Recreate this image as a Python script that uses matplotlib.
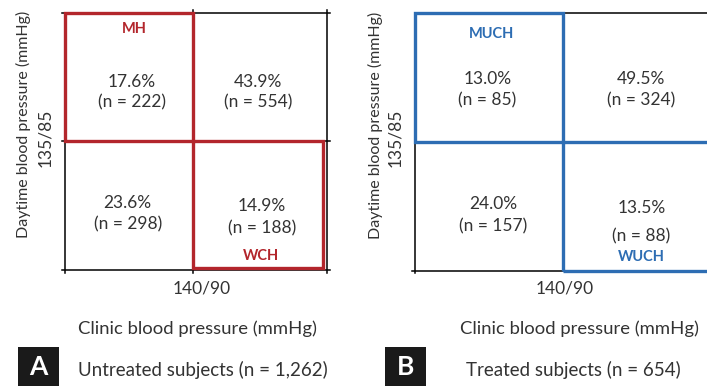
import matplotlib
matplotlib.use("Agg")
import matplotlib.pyplot as plt
from matplotlib.patches import Rectangle

# data
panels = ["A", "B"]
titles = ["Untreated subjects (n = 1,262)", "Treated subjects (n = 654)"]
# cells: top-left, top-right, bottom-left, bottom-right
pct_a = [17.6, 43.9, 23.6, 14.9]
n_a = [222, 554, 298, 188]
pct_b = [13.0, 49.5, 24.0, 13.5]
n_b = [85, 324, 157, 88]
tags_a = ["MH", "WCH"]
tags_b = ["MUCH", "WUCH"]
x_cut = "140/90"
y_cut = "135/85"
xlab = "Clinic blood pressure (mmHg)"
ylab = "Daytime blood pressure (mmHg)"

W, H = 707, 386
RED = "#b3262c"
BLUE = "#2d6db3"
TXT = "#333333"
plt.rcParams['font.family'] = ['Lato', 'DejaVu Sans']

fig = plt.figure(figsize=(W / 100, H / 100), dpi=100)


def fx(px):
    return px / W


def fy(py):
    return 1 - py / H


def add_panel(left, top, bottom, unit):
    # axes where one cell is one data unit
    ax = fig.add_axes([fx(left), fy(bottom), fx(2 * unit), fy(top) - fy(bottom)])
    ax.set_xlim(0, 2)
    ax.set_ylim(0, 2)
    ax.axis("off")
    return ax


fs = 12.5

# ---- panel A ----
axA = add_panel(65, 12.7, 270, 128)
k = dict(color="black", lw=1.1, clip_on=False, zorder=1)
axA.plot([-0.02, 2.07], [2, 2], **k)
axA.plot([-0.02, 2.07], [0, 0], **k)
axA.plot([-0.02, 2.07], [1, 1], **k)
axA.plot([0, 0], [-0.02, 2.0], **k)
axA.plot([1, 1], [-0.02, 2.02], **k)
axA.plot([2.05, 2.05], [-0.02, 2.02], **k)
axA.add_patch(Rectangle((0, 1), 1, 1, fill=False, ec=RED, lw=2.4, clip_on=False, zorder=3))
axA.add_patch(Rectangle((1, 0.015), 1.015, 0.985, fill=False, ec=RED, lw=2.4, clip_on=False, zorder=3))

pos_a = [(0.52, 1.46, 1.30), (1.51, 1.46, 1.30), (0.49, 0.52, 0.357), (1.54, 0.496, 0.326)]
for (x, yp, yn), p, n in zip(pos_a, pct_a, n_a):
    axA.text(x, yp, f"{p:.1f}%", ha="center", va="center", fontsize=fs, color=TXT)
    axA.text(x, yn, f"(n = {n})", ha="center", va="center", fontsize=fs, color=TXT)
axA.text(0.54, 1.873, tags_a[0], ha="center", va="center", fontsize=10.5, color=RED, fontweight="bold")
axA.text(1.53, 0.109, tags_a[1], ha="center", va="center", fontsize=10.5, color=RED, fontweight="bold")

# ---- panel B ----
axB = add_panel(415, 13.3, 270.7, 148)
axB.plot([1, 2.1], [2, 2], **k)
axB.plot([-0.02, 1], [0, 0], **k)
axB.plot([0, 0], [-0.02, 1], **k)
axB.add_patch(Rectangle((0, 1), 1, 1, fill=False, ec=BLUE, lw=2.4, clip_on=False, zorder=3))
axB.add_patch(Rectangle((1, 0), 1.2, 1, fill=False, ec=BLUE, lw=2.4, clip_on=False, zorder=3))

pos_b = [(0.49, 1.49, 1.325), (1.53, 1.49, 1.325), (0.53, 0.517, 0.347), (1.53, 0.49, 0.27)]
for (x, yp, yn), p, n in zip(pos_b, pct_b, n_b):
    axB.text(x, yp, f"{p:.1f}%", ha="center", va="center", fontsize=fs, color=TXT)
    axB.text(x, yn, f"(n = {n})", ha="center", va="center", fontsize=fs, color=TXT)
axB.text(0.52, 1.84, tags_b[0], ha="center", va="center", fontsize=10.5, color=BLUE, fontweight="bold")
axB.text(1.53, 0.107, tags_b[1], ha="center", va="center", fontsize=10.5, color=BLUE, fontweight="bold")

# ---- axis texts and panel captions ----
for ylx, cutx, ymid, xcut_px, xlab_px, box_x, cap_x, i in [
    (23, 45, 124, 202, 197, 18, 78, 0),
    (375, 395, 125, 565, 579, 385, 466, 1),
]:
    fig.text(fx(ylx), fy(ymid), ylab, rotation=90, ha="center", va="center", fontsize=11.5, color=TXT)
    fig.text(fx(cutx), fy(138), y_cut, rotation=90, ha="center", va="center", fontsize=fs, color=TXT)
    fig.text(fx(xcut_px), fy(289), x_cut, ha="center", va="center", fontsize=fs, color=TXT)
    fig.text(fx(xlab_px), fy(329), xlab, ha="center", va="center", fontsize=13.3, color=TXT)
    fig.patches.append(Rectangle((fx(box_x), fy(390)), fx(41), fy(347) - fy(390),
                                 transform=fig.transFigure, fc="#1a1a1a", ec="none"))
    fig.text(fx(box_x + 20.5), fy(367), panels[i], ha="center", va="center",
             fontsize=19, color="white", fontweight="bold")
    fig.text(fx(cap_x), fy(370), titles[i], ha="left", va="center", fontsize=13.5, color=TXT)

fig.savefig("out.png", dpi=100)
